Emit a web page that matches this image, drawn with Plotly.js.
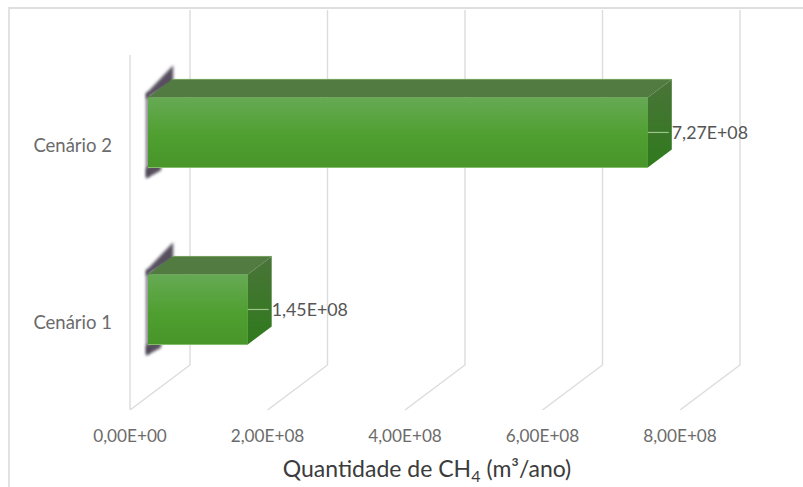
<!DOCTYPE html>
<html lang="pt">
<head>
<meta charset="utf-8">
<title>Quantidade de CH4</title>
<script src="https://cdn.plot.ly/plotly-3.0.1.min.js"></script>
<style>
  html, body { margin: 0; padding: 0; background: #fff; }
  #frame { position: absolute; left: 8px; top: 7px; width: 795px; height: 480px;
           border-left: 2px solid #e2e2e2; border-top: 2px solid #dedede; box-sizing: border-box; }
  #chart { position: absolute; left: 0; top: 0; width: 803px; height: 487px; }
</style>
</head>
<body>
<div id="chart"></div>
<div id="frame"></div>
<script>
// Chart values
const categories = ['Cenário 1', 'Cenário 2'];
const methane = [1.45e8, 7.27e8];
const tickValues = [0, 2e8, 4e8, 6e8, 8e8];
const tickLabels = ['0,00E+00', '2,00E+08', '4,00E+08', '6,00E+08', '8,00E+08'];
const axisTitle = 'Quantidade de CH<sub>4</sub> (m³/ano)';

// Oblique 3D projection: one unit of depth shifts a point along both axes.
const depthX = 0.873e8;
const depthY = 0.2542;
const barFrontDepth = 0.30;
const barBackDepth = 0.70;
const barHalf = 0.198;
const yRange = [-0.4915, 1.768];
const xRange = [-0.5236e8, 9.164e8];

const project = (v, c, d) => [v + d * depthX, c + d * depthY];

function poly(points, style) {
  return Object.assign({
    x: points.map(p => p[0]), y: points.map(p => p[1]),
    type: 'scatter', mode: 'lines', hoverinfo: 'skip', showlegend: false, cliponaxis: false
  }, style);
}

const traces = [];

// Wall and floor grid lines
const gridLine = { color: '#dcdcdc', width: 1.4 };
tickValues.forEach(v => {
  const pts = [project(v, yRange[0], 0), project(v, yRange[0], 1), project(v, yRange[1] - depthY, 1)];
  traces.push(poly(pts, { line: gridLine }));
});
traces.push(poly([project(0, yRange[0], 0), project(0, yRange[1] - depthY, 0)], { line: gridLine }));
const shadowStart = traces.length;

// Soft shadow the bars cast on the side wall
const shadowFill = { fill: 'toself', fillcolor: 'rgba(58,48,66,0.85)', line: { width: 0 } };
categories.forEach((_, i) => {
  const up = i + barHalf;
  const down = i - barHalf;
  traces.push(poly([
    project(0, up, 0.27), project(0, up + 0.03, 0.27), project(0, up + 0.075, 0.72), project(0, up - 0.02, 0.72), project(0, up, 0.27)
  ], shadowFill));
  traces.push(poly([
    project(0, down, 0.27), project(0, down - 0.055, 0.27), project(0, down - 0.072, 0.52), project(0, down, 0.52), project(0, down, 0.27)
  ], shadowFill));
  traces.push(poly([
    project(0, down - 0.05, 0.27), project(0, up + 0.03, 0.27),
    project(0, up + 0.03, 0.31), project(0, down - 0.05, 0.31), project(0, down - 0.05, 0.27)
  ], shadowFill));
});
const shadowEnd = traces.length;

// Front faces
traces.push({
  type: 'bar', orientation: 'h',
  x: methane, y: categories.map((_, i) => i),
  base: methane.map(() => barFrontDepth * depthX),
  width: barHalf * 2, offset: -barHalf + barFrontDepth * depthY,
  marker: { color: '#4e9c30', line: { width: 0 } },
  hoverinfo: 'skip', showlegend: false
});

methane.forEach((v, i) => {
  const f = (val, c) => project(val, c, barFrontDepth);
  const b = (val, c) => project(val, c, barBackDepth);
  // top face
  traces.push(poly([f(0, i + barHalf), f(v, i + barHalf), b(v, i + barHalf), b(0, i + barHalf), f(0, i + barHalf)],
    { fill: 'toself', fillcolor: '#517b41', line: { width: 0 } }));
  traces.push(poly([b(0, i + barHalf), b(v, i + barHalf)], { line: { color: '#6fa058', width: 1 } }));
  // right face
  traces.push(poly([f(v, i + barHalf), b(v, i + barHalf), b(v, i - barHalf), f(v, i - barHalf), f(v, i + barHalf)], {
    fill: 'toself', line: { width: 0 },
    fillgradient: { type: 'vertical', colorscale: [[0, '#2f7a1c'], [1, '#4a7439']] }
  }));
  // front face shading
  traces.push(poly([f(0, i - barHalf), f(v, i - barHalf), f(v, i + barHalf), f(0, i + barHalf), f(0, i - barHalf)], {
    fill: 'toself', line: { width: 0 },
    fillgradient: { type: 'vertical', colorscale: [[0, '#48952a'], [0.45, '#4f9f30'], [1, '#66aa54']] }
  }));
  // bottom highlight on the front face
  traces.push(poly([f(0, i - barHalf), f(v, i - barHalf)], { line: { color: '#86bd6c', width: 1 } }));
  // leader line to the value label
  traces.push(poly([project(v, i, barFrontDepth), project(v, i, barBackDepth - 0.05)].map(p => [p[0], i + barFrontDepth * depthY]),
    { line: { color: '#9cc48c', width: 1.2 } }));
});

// Value labels
const sci = v => {
  const [m, e] = v.toExponential(2).split('e');
  return m.replace('.', ',') + 'E+' + String(Math.abs(+e)).padStart(2, '0');
};
traces.push({
  type: 'scatter', mode: 'text', cliponaxis: false,
  x: methane.map(v => v + barBackDepth * depthX),
  y: categories.map((_, i) => i + barFrontDepth * depthY - 0.012),
  text: methane.map(sci), textposition: 'middle right',
  textfont: { family: 'Lato, sans-serif', size: 17.8, color: '#555555' },
  hoverinfo: 'skip', showlegend: false
});

const layout = {
  width: 803, height: 487,
  margin: { l: 94, r: 43, t: 10, b: 77 },
  paper_bgcolor: 'rgba(0,0,0,0)', plot_bgcolor: 'rgba(0,0,0,0)',
  showlegend: false, barmode: 'overlay',
  font: { family: 'Lato, sans-serif', color: '#666666' },
  xaxis: {
    range: xRange, tickmode: 'array', tickvals: tickValues, ticktext: tickLabels,
    showgrid: false, zeroline: false, showline: false, ticks: '',
    ticklabelstandoff: 14,
    tickfont: { family: 'Lato, sans-serif', size: 17.2, color: '#6b6b6b' },
    title: { text: axisTitle, standoff: 15,
             font: { family: 'Lato, sans-serif', size: 23, color: '#3c3c3c' } }
  },
  yaxis: {
    range: yRange, tickmode: 'array', tickvals: categories.map((_, i) => i), ticktext: categories,
    anchor: 'free', position: 0.05405,
    showgrid: false, zeroline: false, showline: false, ticks: '',
    ticklabelstandoff: 18,
    tickfont: { family: 'Lato, sans-serif', size: 18.5, color: '#6b6b6b' }
  }
};

Plotly.newPlot('chart', traces, layout, { staticPlot: true, displayModeBar: false }).then(() => {
  // Soften the wall shadows
  const groups = document.querySelectorAll('#chart .scatterlayer .trace');
  for (let i = shadowStart; i < shadowEnd; i++) groups[i].style.filter = 'blur(1.8px)';
});
</script>
</body>
</html>
